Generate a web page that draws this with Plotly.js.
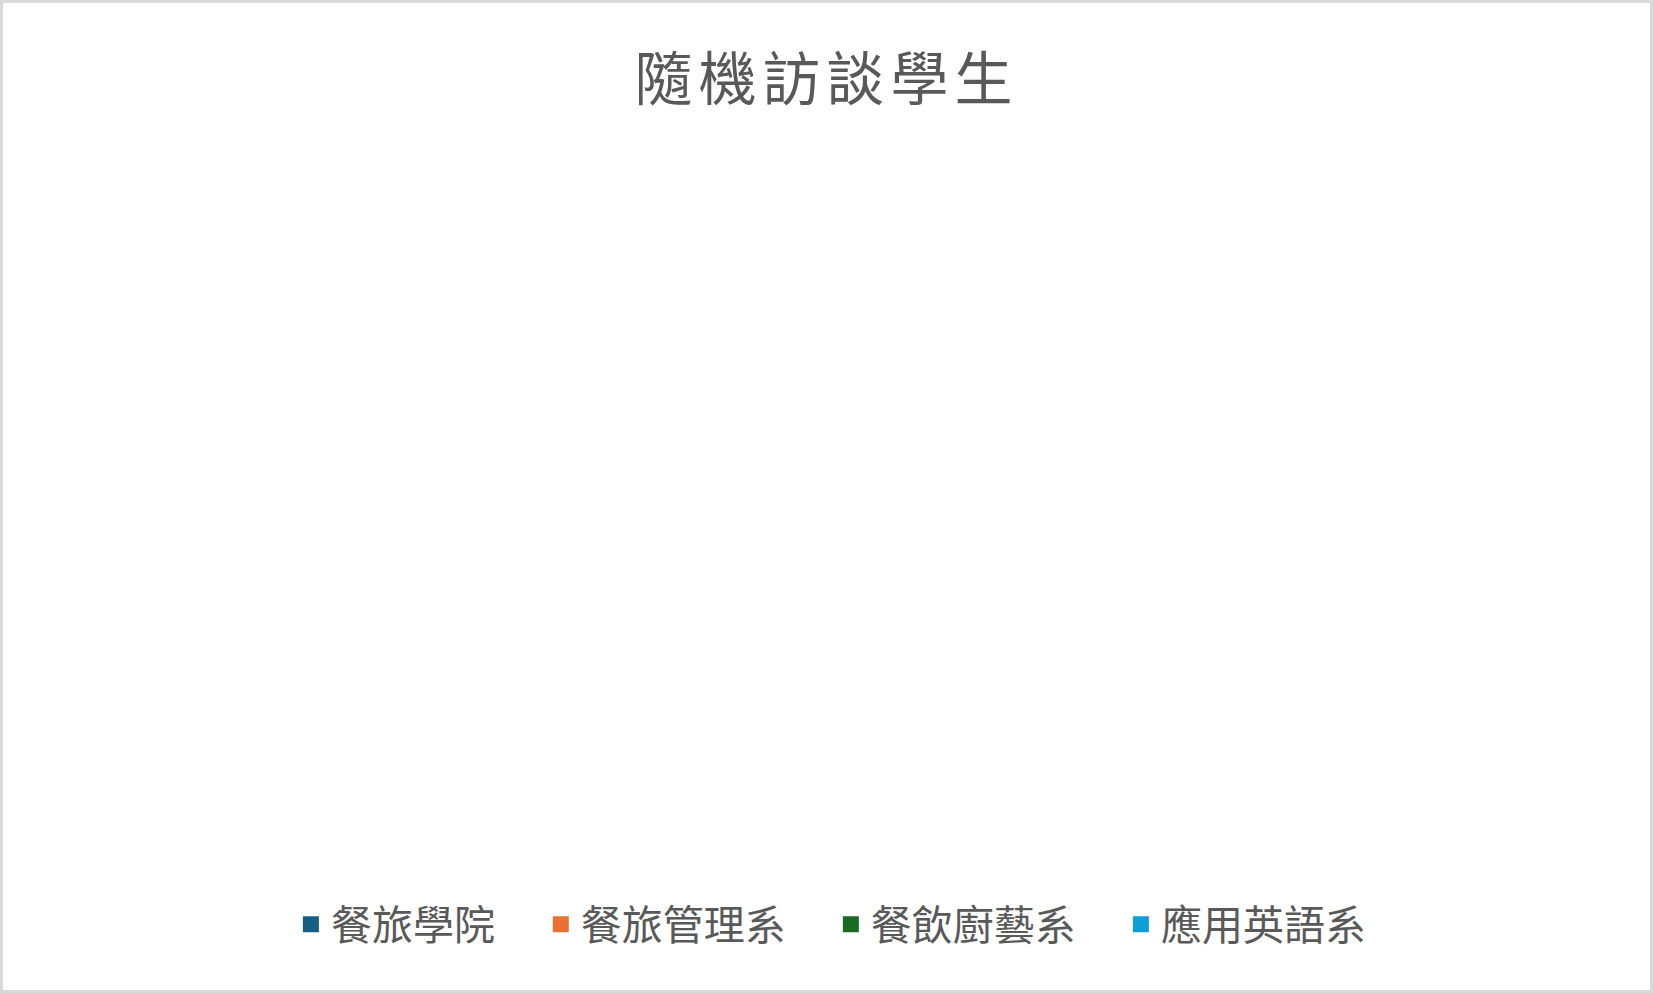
<!DOCTYPE html>
<html>
<head>
<meta charset="utf-8">
<script src="https://cdn.plot.ly/plotly-3.0.1.min.js"></script>
<style>
html,body{margin:0;padding:0;background:#fff;}
#wrap{width:1653px;height:993px;box-sizing:border-box;border:3px solid #d9d9d9;background:#fff;}
#chart{width:1647px;height:987px;}
</style>
</head>
<body>
<div id="wrap"><div id="chart"></div></div>
<script>
const chartTitle = "隨機訪談學生";
const categories = ["餐旅學院", "餐旅管理系", "餐飲廚藝系", "應用英語系"];
const values = [0, 0, 0, 0];
const colors = ["#156082", "#E97132", "#196B24", "#0F9ED5"];

// Pie (all values are zero, so no slices are drawn)
const data = [{
  type: "pie",
  labels: categories,
  values: values,
  marker: {colors: colors},
  sort: false,
  textinfo: "none",
  showlegend: false,
  domain: {x: [0, 1], y: [0.1, 0.95]}
}];

const legendIds = ["legend", "legend2", "legend3", "legend4"];
const legendX = [0.1667, 0.3222, 0.5027, 0.6832];

categories.forEach(function (c, i) {
  data.push({
    type: "scatter",
    mode: "markers",
    x: [null],
    y: [null],
    name: c,
    legend: legendIds[i],
    marker: {symbol: "square", size: 16, color: colors[i]},
    showlegend: true,
    hoverinfo: "skip"
  });
});

const M = {l: 20, r: 20, t: 130, b: 40};

const layout = {
  width: 1647,
  height: 987,
  paper_bgcolor: "#ffffff",
  plot_bgcolor: "#ffffff",
  margin: M,
  xaxis: {visible: false, showgrid: false, zeroline: false},
  yaxis: {visible: false, showgrid: false, zeroline: false},
  title: {
    text: '<span style="letter-spacing:6px">' + chartTitle + '</span>',
    x: 0.5, xanchor: "center",
    y: 0.922, yanchor: "middle",
    font: {family: "Noto Sans CJK TC, sans-serif", size: 58, color: "#595959"}
  },
  showlegend: true
};

legendIds.forEach(function (id, i) {
  layout[id] = {
    orientation: "h",
    x: legendX[i], xanchor: "left",
    y: 0.031, yanchor: "middle",
    font: {family: "Noto Sans CJK TC, sans-serif", size: 41, color: "#595959"},
    itemwidth: 30,
    bgcolor: "rgba(0,0,0,0)"
  };
});

Plotly.newPlot("chart", data, layout, {displayModeBar: false, staticPlot: true});
</script>
</body>
</html>
